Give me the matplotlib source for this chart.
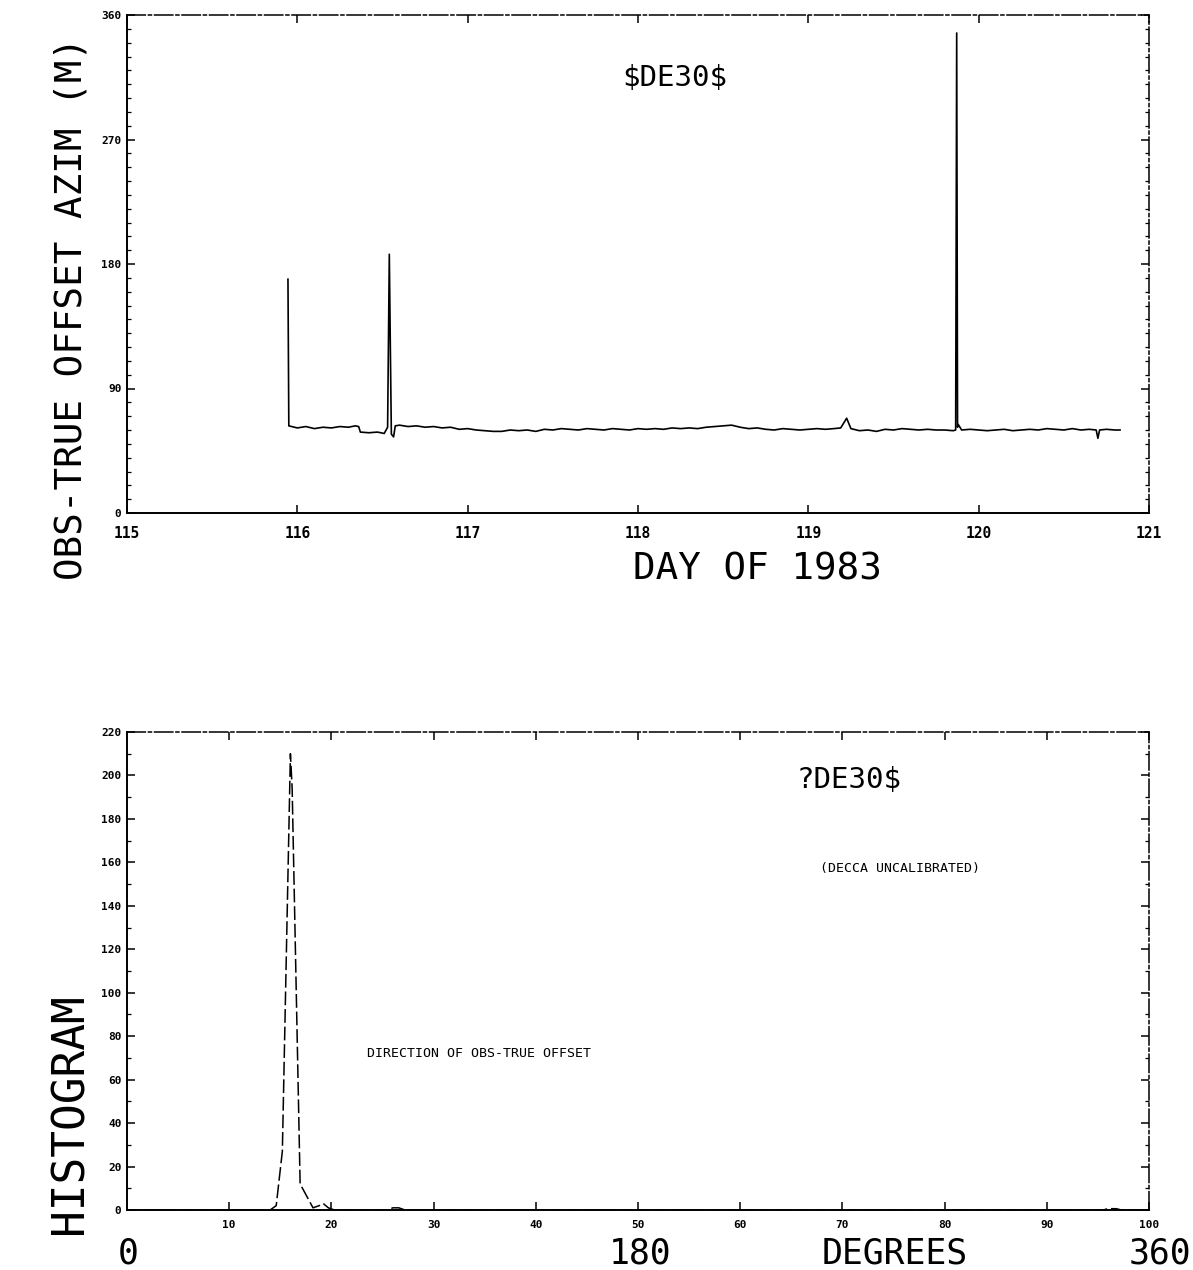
import matplotlib
matplotlib.use("Agg")
import matplotlib.pyplot as plt
from matplotlib.ticker import MultipleLocator

plt.rcParams['font.family'] = ['DejaVu Sans Mono', 'DejaVu Sans']

# ---------------- data: top panel (offset azimuth vs day) ----------------
day = [115.945, 115.950, 116.00, 116.05, 116.10, 116.15, 116.20, 116.25, 116.30, 116.34,
       116.36, 116.37, 116.42, 116.47, 116.51, 116.53, 116.540, 116.546, 116.552, 116.565,
       116.575, 116.60, 116.65, 116.70, 116.75, 116.80, 116.85, 116.90, 116.95, 117.00,
       117.05, 117.10, 117.15, 117.20, 117.25, 117.30, 117.35, 117.40, 117.45, 117.50,
       117.55, 117.60, 117.65, 117.70, 117.75, 117.80, 117.85, 117.90, 117.95, 118.00,
       118.05, 118.10, 118.15, 118.20, 118.25, 118.30, 118.35, 118.40, 118.45, 118.50,
       118.55, 118.60, 118.65, 118.70, 118.75, 118.80, 118.85, 118.90, 118.95, 119.00,
       119.05, 119.10, 119.15, 119.19, 119.225, 119.25, 119.30, 119.35, 119.40, 119.45,
       119.50, 119.55, 119.60, 119.65, 119.70, 119.75, 119.80, 119.85, 119.865, 119.871,
       119.876, 119.88, 119.90, 119.95, 120.00, 120.05, 120.10, 120.15, 120.20, 120.25,
       120.30, 120.35, 120.40, 120.45, 120.50, 120.55, 120.60, 120.65, 120.69, 120.70,
       120.71, 120.75, 120.80, 120.83]
offset = [169, 63, 61.5, 62.5, 61, 62, 61.5, 62.5, 62, 63,
          62.5, 58.5, 58, 58.5, 57.5, 62, 187, 120, 57, 55,
          63, 63.5, 62.5, 63, 62, 62.5, 61.5, 62, 60.5, 61,
          60, 59.5, 59, 59, 60, 59.5, 60, 59, 60.5, 60,
          61, 60.5, 60, 61, 60.5, 60, 61, 60.5, 60, 61,
          60.5, 61, 60.5, 61.5, 61, 61.5, 61, 62, 62.5, 63,
          63.5, 62, 61, 61.5, 60.5, 60, 61, 60.5, 60, 60.5,
          61, 60.5, 61, 61.5, 68.5, 61, 59.5, 60, 59, 60.5,
          60, 61, 60.5, 60, 60.5, 60, 60, 59.5, 60, 347,
          62, 64, 60, 60.5, 60, 59.5, 60, 60.5, 59.5, 60,
          60.5, 60, 61, 60.5, 60, 61, 60, 60.5, 60, 54,
          60, 60.5, 60, 60]

# ---------------- data: bottom panel (histogram of direction) ----------------
hist_x = [0, 14.0, 14.6, 15.2, 15.99, 16.16, 16.94, 18.2, 18.8, 19.2, 19.7, 20.3,
          25.6, 26.0, 26.6, 27.2, 95.5, 96.0, 96.8, 97.3, 100]
hist_y = [0, 0, 2, 27, 210, 194, 12, 1, 2, 3, 1, 0,
          0, 1, 1, 0, 0, 0.6, 0.6, 0, 0]

top_xticks = [115, 116, 117, 118, 119, 120, 121]
top_yticks = [0, 90, 180, 270, 360]
bot_xticks = [10, 20, 30, 40, 50, 60, 70, 80, 90, 100]
bot_yticks = [0, 20, 40, 60, 80, 100, 120, 140, 160, 180, 200, 220]

fig = plt.figure(figsize=(11.93, 12.70), dpi=100)
W, H = 1193.0, 1270.0

def style_axes(ax, ylabsize, xlabsize, xpad):
    for s in ['left', 'bottom']:
        ax.spines[s].set_linewidth(1.4)
    for s in ['top', 'right']:
        ax.spines[s].set_linewidth(1.1)
        ax.spines[s].set_linestyle((0, (12, 2, 2, 2)))
    ax.tick_params(which='both', direction='in', top=True, right=True, color='black')
    ax.tick_params(which='major', length=6, width=1.1)
    ax.tick_params(which='minor', length=3, width=0.9)
    ax.tick_params(axis='y', labelsize=ylabsize, pad=4)
    ax.tick_params(axis='x', labelsize=xlabsize, pad=xpad)
    for lab in ax.get_xticklabels() + ax.get_yticklabels():
        lab.set_fontweight('bold')

# ---------------- top panel ----------------
ax1 = fig.add_axes([127 / W, 1 - 513 / H, 1022 / W, 498 / H])
ax1.plot(day, offset, color='black', lw=1.2)
ax1.set_xlim(115, 121)
ax1.set_ylim(0, 360)
ax1.set_xticks(top_xticks)
ax1.set_yticks(top_yticks)
ax1.yaxis.set_minor_locator(MultipleLocator(10))
ax1.tick_params(axis='x', which='minor', bottom=False, top=False)
style_axes(ax1, 8, 10.5, 9)
ax1.text(0.536, 0.873, "$DE30$", transform=ax1.transAxes, ha='center', va='center',
         fontsize=21, parse_math=False)
fig.text(72 / W, 1 - 308 / H, "OBS-TRUE OFFSET AZIM (M)", rotation=90,
         ha='center', va='center', fontsize=27)
fig.text(757 / W, 1 - 570 / H, "DAY OF 1983", ha='center', va='center', fontsize=27)

# ---------------- bottom panel ----------------
ax2 = fig.add_axes([127 / W, 1 - 1210 / H, 1022 / W, 478 / H])
ax2.plot(hist_x, hist_y, color='black', lw=1.1, linestyle=(0, (9, 2.5)))
ax2.set_xlim(0, 100)
ax2.set_ylim(0, 220)
ax2.set_xticks(bot_xticks)
ax2.set_yticks(bot_yticks)
ax2.yaxis.set_minor_locator(MultipleLocator(10))
ax2.tick_params(axis='x', which='minor', bottom=False, top=False)
style_axes(ax2, 8, 8, 7)
ax2.text(0.707, 0.90, "?DE30$", transform=ax2.transAxes, ha='center', va='center',
         fontsize=21, parse_math=False)
ax2.text(0.756, 0.715, "(DECCA UNCALIBRATED)", transform=ax2.transAxes,
         ha='center', va='center', fontsize=9.5)
ax2.text(0.344, 0.328, "DIRECTION OF OBS-TRUE OFFSET", transform=ax2.transAxes,
         ha='center', va='center', fontsize=9.5)
fig.text(70 / W, 1 - 1114 / H, "HISTOGRAM", rotation=90,
         ha='center', va='center', fontsize=32)
fig.text(128 / W, 1 - 1253 / H, "0", ha='center', va='center', fontsize=25)
fig.text(640 / W, 1 - 1253 / H, "180", ha='center', va='center', fontsize=25)
fig.text(895 / W, 1 - 1253 / H, "DEGREES", ha='center', va='center', fontsize=25)
fig.text(1160 / W, 1 - 1253 / H, "360", ha='center', va='center', fontsize=25)

fig.savefig("out.png", dpi=100, facecolor='white')
